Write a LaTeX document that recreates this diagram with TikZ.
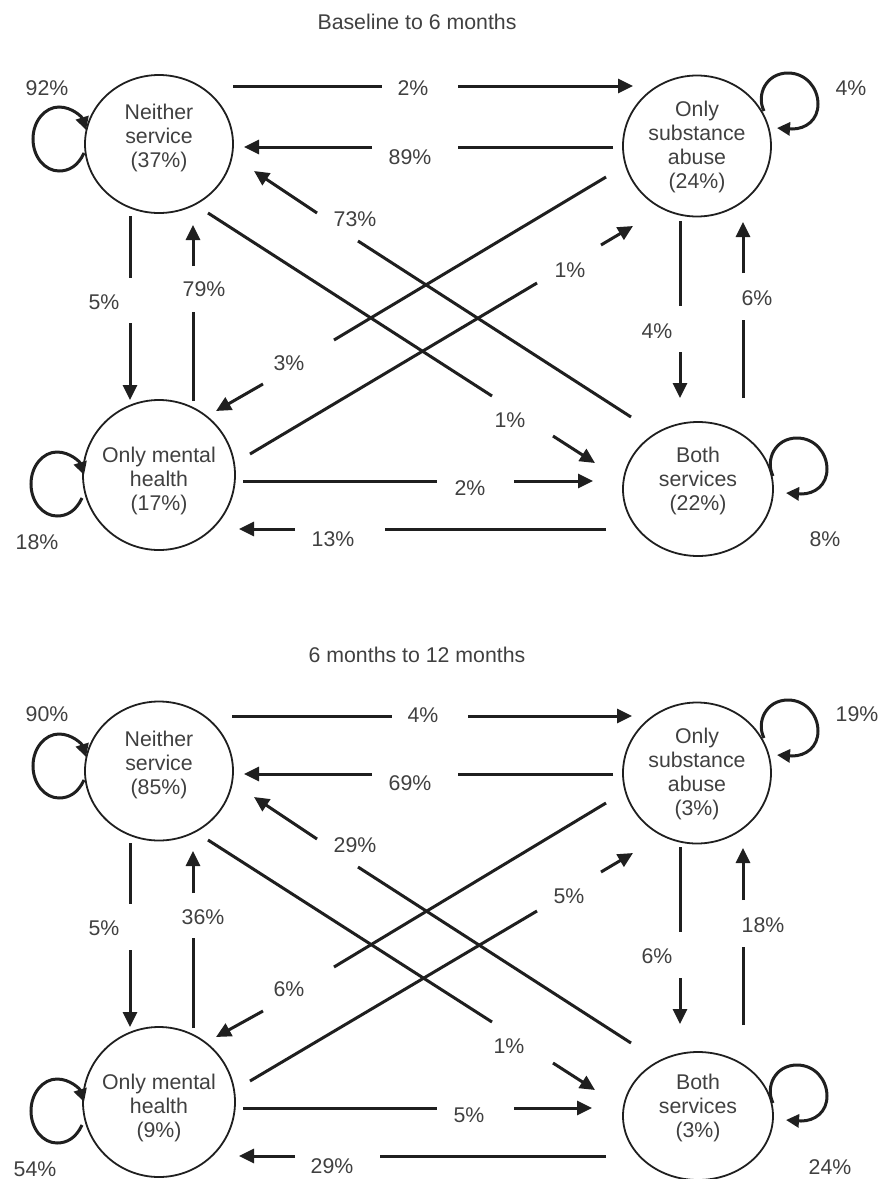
\documentclass[tikz,border=0pt]{standalone}
\usepackage{fontspec}
\setmainfont{Liberation Sans}
\usetikzlibrary{arrows.meta,shapes.geometric,calc}
\newcommand\dfont{\fontsize{21.3}{23.8}\selectfont}
\newcommand\lloop[1]{\begin{scope}[shift={#1}]
  \draw[lp] (25,14) .. controls (19,27) and (10,32) .. (0,32)
    .. controls (-14,32) and (-26,18) .. (-26,0)
    .. controls (-26,-18) and (-14,-32) .. (0,-32)
    .. controls (13,-32) and (23,-22) .. (27,-9);
\end{scope}}
\newcommand\rloop[1]{\begin{scope}[shift={#1}]
  \draw[lp] (-25,10) .. controls (-33,-6) and (-23,-28) .. (-1,-28)
    .. controls (17,-28) and (29,-13) .. (29,3)
    .. controls (29,19) and (17,28) .. (3,28) -- (-12,27);
\end{scope}}
\begin{document}
\begin{tikzpicture}[x=1pt,y=-1pt,
  state/.style={ellipse,draw=black!88,line width=1.8pt,inner sep=0pt},
  txt/.style={align=center,font=\dfont,text=black!75,inner sep=0pt},
  lbl/.style={font=\dfont,text=black!75,inner sep=0pt},
  ln/.style={line width=3pt,draw=black!88,-{Triangle[length=15pt,width=14pt]}},
  lp/.style={line width=3pt,draw=black!88,-{Triangle[length=13pt,width=13pt]}}
]
\useasboundingbox (0,0) rectangle (887,1179);

% ================= Baseline to 6 months =================
\node[lbl] (t1) at (417,22) {Baseline to 6 months};

\node[state,minimum width=148pt,minimum height=138pt] (ns) at (159,144) {};
\node[txt] (nst) at (159,138) {Neither\\service\\(37\%)};
\node[state,minimum width=148pt,minimum height=141pt] (sa) at (697,146) {};
\node[txt] (sat) at (697,147) {Only\\substance\\abuse\\(24\%)};
\node[state,minimum width=152pt,minimum height=150pt] (mh) at (159,475) {};
\node[txt] (mht) at (159,481) {Only mental\\health\\(17\%)};
\node[state,minimum width=150pt,minimum height=134pt] (bs) at (698,489) {};
\node[txt] (bst) at (698,481) {Both\\services\\(22\%)};

% connectors
\draw[ln] ($(ns)+(74,-58)$) -- ($(ns)+(223,-58)$) ($(sa)+(-239,-60)$) -- ($(sa)+(-64,-60)$);
\node[lbl] (a1) at (413,88) {2\%};
\draw[ln] ($(sa)+(-84,1)$) -- ($(sa)+(-239,1)$) ($(ns)+(213,3)$) -- ($(ns)+(85,3)$);
\node[lbl] (a2) at (410,157) {89\%};
\draw[ln] ($(bs)+(-67,-72)$) -- ($(bs)+(-340,-248)$) ($(ns)+(158,69)$) -- ($(ns)+(95,27)$);
\node[lbl] (a3) at (355,219) {73\%};
\draw[ln] ($(ns)+(49,69)$) -- ($(ns)+(333,252)$) ($(bs)+(-145,-53)$) -- ($(bs)+(-103,-26)$);
\node[lbl] (a4) at (510,420) {1\%};
\draw[ln] ($(mh)+(91,-21)$) -- ($(mh)+(378,-192)$) ($(sa)+(-96,99)$) -- ($(sa)+(-64,80)$);
\node[lbl] (a5) at (570,270) {1\%};
\draw[ln] ($(sa)+(-91,31)$) -- ($(sa)+(-363,194)$) ($(mh)+(104,-91)$) -- ($(mh)+(57,-64)$);
\node[lbl] (a6) at (289,363) {3\%};
\draw[ln] ($(ns)+(-29,72)$) -- ($(ns)+(-29,134)$) ($(mh)+(-29,-152)$) -- ($(mh)+(-29,-75)$);
\node[lbl] (a7) at (104,302) {5\%};
\draw[ln] ($(mh)+(34,-74)$) -- ($(mh)+(34,-163)$) ($(ns)+(34,122)$) -- ($(ns)+(34,81)$);
\node[lbl] (a8) at (204,289) {79\%};
\draw[ln] ($(sa)+(-17,75)$) -- ($(sa)+(-17,160)$) ($(bs)+(-18,-137)$) -- ($(bs)+(-18,-91)$);
\node[lbl] (a9) at (657,331) {4\%};
\draw[ln] ($(bs)+(45,-91)$) -- ($(bs)+(45,-169)$) ($(sa)+(46,127)$) -- ($(sa)+(46,76)$);
\node[lbl] (a10) at (757,298) {6\%};
\draw[ln] ($(mh)+(84,6)$) -- ($(mh)+(278,6)$) ($(bs)+(-184,-8)$) -- ($(bs)+(-105,-8)$);
\node[lbl] (a11) at (470,488) {2\%};
\draw[ln] ($(bs)+(-92,40)$) -- ($(bs)+(-313,40)$) ($(mh)+(136,54)$) -- ($(mh)+(80,54)$);
\node[lbl] (a12) at (333,539) {13\%};

% loops
\lloop{($(ns)+(-100,-5)$)}
\node[lbl] (al1) at (47,88) {92\%};
\lloop{($(mh)+(-102,9)$)}
\node[lbl] (al2) at (37,542) {18\%};
\rloop{($(sa)+(92,-45)$)}
\node[lbl] (al3) at (851,88) {4\%};
\rloop{($(bs)+(100,-23)$)}
\node[lbl] (al4) at (825,539) {8\%};

% ================= 6 months to 12 months =================
\node[lbl] (t2) at (417,655) {6 months to 12 months};

\node[state,minimum width=148pt,minimum height=139pt] (ns2) at (159,771) {};
\node[txt] (ns2t) at (159,765) {Neither\\service\\(85\%)};
\node[state,minimum width=148pt,minimum height=141pt] (sa2) at (697,773) {};
\node[txt] (sa2t) at (697,774) {Only\\substance\\abuse\\(3\%)};
\node[state,minimum width=152pt,minimum height=150pt] (mh2) at (159,1102) {};
\node[txt] (mh2t) at (159,1108) {Only mental\\health\\(9\%)};
\node[state,minimum width=150pt,minimum height=128pt] (bs2) at (698,1116) {};
\node[txt] (bs2t) at (698,1108) {Both\\services\\(3\%)};

\draw[ln] ($(ns2)+(73,-55)$) -- ($(ns2)+(233,-55)$) ($(sa2)+(-229,-57)$) -- ($(sa2)+(-65,-57)$);
\node[lbl] (b1) at (423,715) {4\%};
\draw[ln] ($(sa2)+(-84,1)$) -- ($(sa2)+(-239,1)$) ($(ns2)+(213,3)$) -- ($(ns2)+(85,3)$);
\node[lbl] (b2) at (410,783) {69\%};
\draw[ln] ($(bs2)+(-67,-73)$) -- ($(bs2)+(-340,-249)$) ($(ns2)+(158,68)$) -- ($(ns2)+(95,26)$);
\node[lbl] (b3) at (355,845) {29\%};
\draw[ln] ($(ns2)+(49,69)$) -- ($(ns2)+(333,251)$) ($(bs2)+(-145,-53)$) -- ($(bs2)+(-103,-26)$);
\node[lbl] (b4) at (509,1046) {1\%};
\draw[ln] ($(mh2)+(91,-21)$) -- ($(mh2)+(378,-191)$) ($(sa2)+(-96,99)$) -- ($(sa2)+(-64,80)$);
\node[lbl] (b5) at (569,896) {5\%};
\draw[ln] ($(sa2)+(-91,30)$) -- ($(sa2)+(-363,194)$) ($(mh2)+(104,-91)$) -- ($(mh2)+(57,-65)$);
\node[lbl] (b6) at (289,989) {6\%};
\draw[ln] ($(ns2)+(-29,72)$) -- ($(ns2)+(-29,133)$) ($(mh2)+(-29,-152)$) -- ($(mh2)+(-29,-75)$);
\node[lbl] (b7) at (104,928) {5\%};
\draw[ln] ($(mh2)+(34,-74)$) -- ($(mh2)+(34,-164)$) ($(ns2)+(34,122)$) -- ($(ns2)+(34,80)$);
\node[lbl] (b8) at (203,917) {36\%};
\draw[ln] ($(sa2)+(-17,74)$) -- ($(sa2)+(-17,159)$) ($(bs2)+(-18,-138)$) -- ($(bs2)+(-18,-92)$);
\node[lbl] (b9) at (657,956) {6\%};
\draw[ln] ($(bs2)+(45,-91)$) -- ($(bs2)+(45,-169)$) ($(sa2)+(46,127)$) -- ($(sa2)+(46,75)$);
\node[lbl] (b10) at (763,925) {18\%};
\draw[ln] ($(mh2)+(84,6)$) -- ($(mh2)+(278,6)$) ($(bs2)+(-184,-8)$) -- ($(bs2)+(-106,-8)$);
\node[lbl] (b11) at (469,1115) {5\%};
\draw[ln] ($(bs2)+(-92,40)$) -- ($(bs2)+(-318,40)$) ($(mh2)+(136,54)$) -- ($(mh2)+(80,54)$);
\node[lbl] (b12) at (332,1166) {29\%};

\lloop{($(ns2)+(-100,-5)$)}
\node[lbl] (bl1) at (47,714) {90\%};
\lloop{($(mh2)+(-102,9)$)}
\node[lbl] (bl2) at (35,1169) {54\%};
\rloop{($(sa2)+(92,-45)$)}
\node[lbl] (bl3) at (857,714) {19\%};
\rloop{($(bs2)+(100,-23)$)}
\node[lbl] (bl4) at (830,1167) {24\%};
\end{tikzpicture}
\end{document}
